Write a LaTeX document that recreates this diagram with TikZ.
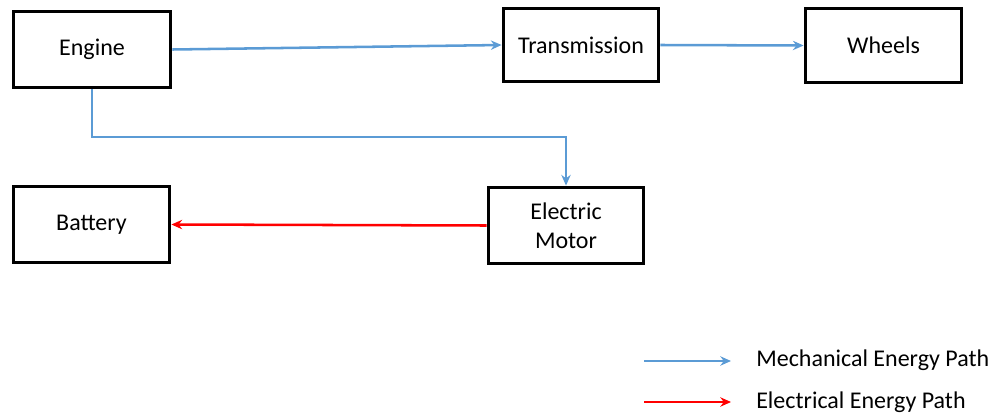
\documentclass[tikz,border=0pt]{standalone}
\usepackage{fontspec}
\setmainfont{Carlito}
\usetikzlibrary{arrows.meta}
\definecolor{mech}{RGB}{91,155,213}
\definecolor{elec}{RGB}{255,0,0}
\begin{document}
\begin{tikzpicture}[x=0.75pt,y=-0.75pt,
  blk/.style={draw=black,line width=2.9pt,fill=white,inner sep=0pt,align=center,font=\fontsize{18}{21.5}\selectfont},
  mecharrow/.style={draw=mech,line width=1.9pt,-{Stealth[length=8pt,width=7pt]}},
  elecarrow/.style={draw=elec,line width=1.9pt,-{Stealth[length=8pt,width=7pt]}},
  legtext/.style={anchor=west,inner sep=0pt,font=\fontsize{18}{21}\selectfont}]
\useasboundingbox (0,0) rectangle (994,414);
\node[blk,minimum width=157*0.75pt,minimum height=76*0.75pt] (engine) at (92,49.5) {Engine};
\node[blk,minimum width=155*0.75pt,minimum height=73*0.75pt] (trans) at (581,45) {Transmission};
\node[blk,minimum width=156*0.75pt,minimum height=74*0.75pt] (wheels) at (883.5,45.5) {Wheels};
\node[blk,minimum width=156*0.75pt,minimum height=76*0.75pt] (battery) at (91.5,224.5) {Battery};
\node[blk,minimum width=155*0.75pt,minimum height=76*0.75pt] (motor) at (566,225.5) {Electric\\Motor};
\draw[mecharrow] (engine.east) -- (trans.west);
\draw[mecharrow] (trans.east) -- (wheels.west);
\draw[mecharrow] (engine.south) |- (566,137) -- (motor.north);
\draw[elecarrow] (motor.west) -- (battery.east);
\coordinate (m1) at (644,361);
\coordinate (m2) at (731,361);
\coordinate (e1) at (644,402);
\coordinate (e2) at (731,402);
\draw[mecharrow] (m1) -- (m2);
\draw[elecarrow] (e1) -- (e2);
\node[legtext] (mlab) at (756,360) {Mechanical Energy Path};
\node[legtext] (elab) at (756,402) {Electrical Energy Path};
\end{tikzpicture}
\end{document}
